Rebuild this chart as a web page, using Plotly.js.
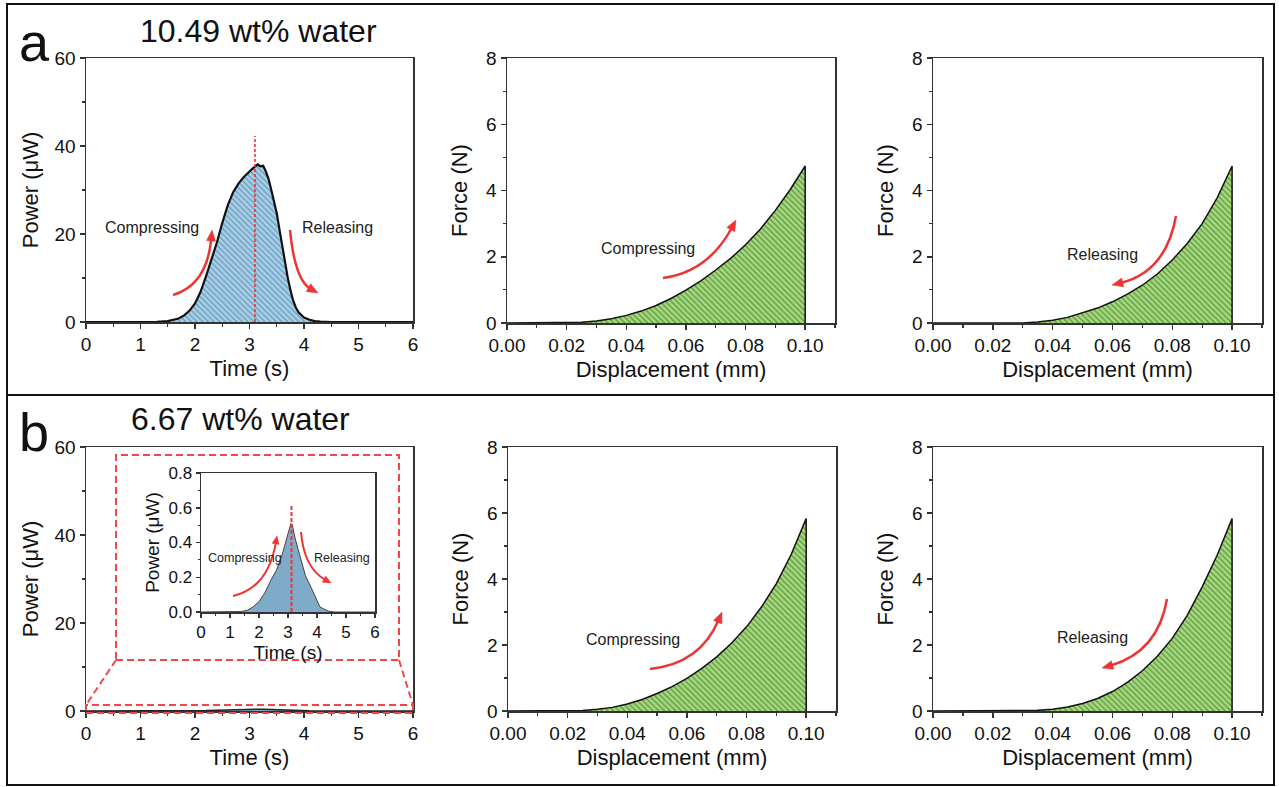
<!DOCTYPE html>
<html>
<head>
<meta charset="utf-8">
<script src="https://cdn.plot.ly/plotly-3.0.1.min.js"></script>
<style>html,body{margin:0;padding:0;background:#fff;}#chart{width:1279px;height:787px;}</style>
</head>
<body>
<div id="chart"></div>
<script>
// ---------- DATA ----------
// Panel a: power vs time (10.49 wt% water)
const timeA  = [0, 0.5, 1.0, 1.3, 1.5, 1.7, 1.8, 1.9, 2.0, 2.1, 2.2, 2.3, 2.4, 2.5, 2.6, 2.7, 2.8, 2.9, 2.95, 3.0, 3.05, 3.1, 3.15, 3.2, 3.25, 3.3, 3.35, 3.4, 3.45, 3.5, 3.55, 3.6, 3.65, 3.7, 3.75, 3.8, 3.85, 3.9, 4.0, 4.1, 4.2, 4.3, 4.5, 5.0, 6.0];
const powerA = [0, 0, 0, 0.05, 0.2, 0.8, 1.5, 2.6, 4.2, 6.8, 10.3, 14.0, 18.0, 22.5, 26.5, 29.5, 31.5, 33.0, 33.6, 34.4, 34.8, 35.3, 35.8, 35.4, 35.5, 34.2, 32.5, 30.0, 27.5, 24.7, 21.0, 17.2, 13.5, 10.2, 7.3, 4.9, 3.3, 2.2, 1.0, 0.5, 0.2, 0.07, 0, 0, 0];
// Panel b: power vs time (6.67 wt% water)
const timeB  = [0, 1.0, 1.4, 1.6, 1.8, 2.0, 2.2, 2.4, 2.6, 2.8, 3.0, 3.1, 3.15, 3.25, 3.4, 3.6, 3.8, 3.9, 4.0, 4.1, 4.2, 4.4, 4.6, 5.0, 6.0];
const powerB = [0, 0, 0.003, 0.01, 0.03, 0.06, 0.11, 0.18, 0.24, 0.33, 0.45, 0.51, 0.50, 0.42, 0.33, 0.21, 0.14, 0.10, 0.06, 0.03, 0.02, 0.005, 0, 0, 0];
const peakTimeA = 3.1, peakLineTopA = 42.3;
const peakTimeB = 3.12, peakLineTopB = 0.62;

// Force vs displacement
const dispCompA  = [0, 0.01, 0.02, 0.025, 0.03, 0.035, 0.04, 0.045, 0.05, 0.055, 0.06, 0.065, 0.07, 0.075, 0.08, 0.085, 0.09, 0.095, 0.1, 0.1];
const forceCompA = [0, 0, 0, 0.02, 0.06, 0.13, 0.23, 0.36, 0.53, 0.74, 0.99, 1.27, 1.60, 1.95, 2.36, 2.84, 3.40, 4.03, 4.74, 0];
const dispRelA   = [0, 0.01, 0.02, 0.03, 0.035, 0.04, 0.045, 0.05, 0.055, 0.06, 0.065, 0.07, 0.075, 0.08, 0.085, 0.09, 0.095, 0.1, 0.1];
const forceRelA  = [0, 0, 0, 0, 0.03, 0.08, 0.17, 0.30, 0.45, 0.64, 0.87, 1.14, 1.48, 1.90, 2.40, 3.00, 3.78, 4.74, 0];
const dispCompB  = [0, 0.01, 0.02, 0.025, 0.03, 0.035, 0.04, 0.045, 0.05, 0.055, 0.06, 0.065, 0.07, 0.075, 0.08, 0.085, 0.09, 0.095, 0.1, 0.1];
const forceCompB = [0, 0, 0, 0.015, 0.05, 0.11, 0.21, 0.35, 0.53, 0.74, 0.99, 1.29, 1.64, 2.06, 2.55, 3.15, 3.86, 4.75, 5.83, 0];
const dispRelB   = [0, 0.01, 0.02, 0.03, 0.035, 0.04, 0.045, 0.05, 0.055, 0.06, 0.065, 0.07, 0.075, 0.08, 0.085, 0.09, 0.095, 0.1, 0.1];
const forceRelB  = [0, 0, 0, 0, 0.02, 0.05, 0.12, 0.23, 0.38, 0.59, 0.87, 1.22, 1.66, 2.20, 2.90, 3.76, 4.72, 5.83, 0];

// Text
const panelLabels = ["a", "b"];
const panelTitles = ["10.49 wt% water", "6.67 wt% water"];
const timeTitle = "Time (s)", powerTitle = "Power (μW)";
const dispTitle = "Displacement (mm)", forceTitle = "Force (N)";
const compText = "Compressing", relText = "Releasing";

// ---------- LAYOUT HELPERS ----------
const W = 1279, H = 787;
const px = x => x / W;
const py = y => 1 - y / H;
const FONT = 'Arial, "Liberation Sans", sans-serif';
const RED = '#ee3333';

const blueFill = {shape: '\\', fgcolor: '#6b9dc0', bgcolor: '#a9d0e6', size: 4, solidity: 0.35, fillmode: 'replace'};
const greenFill = {shape: '\\', fgcolor: '#5f9b3b', bgcolor: '#a8d884', size: 4, solidity: 0.35, fillmode: 'replace'};

function axisBase(extra) {
  return Object.assign({
    showline: true, mirror: true, linecolor: '#333', linewidth: 1.5,
    ticks: 'outside', ticklen: 5, tickwidth: 1.5, tickcolor: '#333',
    showgrid: false, zeroline: false, fixedrange: true,
    tickfont: {size: 19, color: '#111', family: FONT},
    minor: {ticks: 'outside', ticklen: 3, tickwidth: 1.2, tickcolor: '#333', showgrid: false},
    automargin: false
  }, extra);
}
function xdom(l, r) { return [px(l), px(r)]; }
function ydom(t, b) { return [py(b), py(t)]; }

function timeX(l, r, b, anchor) {
  return axisBase({domain: xdom(l, r), anchor: anchor, range: [0, 6], dtick: 1, tick0: 0,
    minor: {ticks: 'outside', ticklen: 3, tickwidth: 1.2, tickcolor: '#333', dtick: 0.5, showgrid: false},
    title: {text: timeTitle, font: {size: 22, color: '#111', family: FONT}, standoff: 6}});
}
function powerY(t, b, anchor) {
  return axisBase({domain: ydom(t, b), anchor: anchor, range: [0, 60], dtick: 20, tick0: 0,
    minor: {ticks: 'outside', ticklen: 3, tickwidth: 1.2, tickcolor: '#333', dtick: 10, showgrid: false},
    title: {text: powerTitle, font: {size: 22, color: '#111', family: FONT}, standoff: 10}});
}
function dispX(l, r, anchor) {
  return axisBase({domain: xdom(l, r), anchor: anchor, range: [0, 0.11], dtick: 0.02, tick0: 0, tickformat: '.2f',
    minor: {ticks: 'outside', ticklen: 3, tickwidth: 1.2, tickcolor: '#333', dtick: 0.01, showgrid: false},
    title: {text: dispTitle, font: {size: 22, color: '#111', family: FONT}, standoff: 6}});
}
function forceY(t, b, anchor) {
  return axisBase({domain: ydom(t, b), anchor: anchor, range: [0, 8], dtick: 2, tick0: 0,
    minor: {ticks: 'outside', ticklen: 3, tickwidth: 1.2, tickcolor: '#333', dtick: 1, showgrid: false},
    title: {text: forceTitle, font: {size: 22, color: '#111', family: FONT}, standoff: 12}});
}

// ---------- TRACES ----------
const traces = [
  {x: timeA, y: powerA, xaxis: 'x', yaxis: 'y', type: 'scatter', mode: 'lines',
   line: {color: '#111', width: 2.2}, fill: 'tozeroy', fillcolor: '#a9d0e6', fillpattern: blueFill, hoverinfo: 'skip'},
  {x: dispCompA, y: forceCompA, xaxis: 'x2', yaxis: 'y2', type: 'scatter', mode: 'lines',
   line: {color: '#111', width: 1.5}, fill: 'tozeroy', fillcolor: '#a8d884', fillpattern: greenFill, hoverinfo: 'skip'},
  {x: dispRelA, y: forceRelA, xaxis: 'x3', yaxis: 'y3', type: 'scatter', mode: 'lines',
   line: {color: '#111', width: 1.5}, fill: 'tozeroy', fillcolor: '#a8d884', fillpattern: greenFill, hoverinfo: 'skip'},
  {x: timeB, y: powerB, xaxis: 'x4', yaxis: 'y4', type: 'scatter', mode: 'lines',
   line: {color: '#222', width: 1.5}, fill: 'tozeroy', fillcolor: '#7faac8', hoverinfo: 'skip'},
  {x: dispCompB, y: forceCompB, xaxis: 'x5', yaxis: 'y5', type: 'scatter', mode: 'lines',
   line: {color: '#111', width: 1.5}, fill: 'tozeroy', fillcolor: '#a8d884', fillpattern: greenFill, hoverinfo: 'skip'},
  {x: dispRelB, y: forceRelB, xaxis: 'x6', yaxis: 'y6', type: 'scatter', mode: 'lines',
   line: {color: '#111', width: 1.5}, fill: 'tozeroy', fillcolor: '#a8d884', fillpattern: greenFill, hoverinfo: 'skip'},
  {x: timeB, y: powerB, xaxis: 'x7', yaxis: 'y7', type: 'scatter', mode: 'lines',
   line: {color: '#444', width: 1}, fill: 'tozeroy', fillcolor: '#7faac8', hoverinfo: 'skip'}
];

// ---------- SHAPES ----------
const shapes = [];
// panel frames
shapes.push({type: 'rect', xref: 'paper', yref: 'paper', x0: px(7), x1: px(1274), y0: py(395), y1: py(4), line: {color: '#111', width: 2}});
shapes.push({type: 'rect', xref: 'paper', yref: 'paper', x0: px(7), x1: px(1274), y0: py(785), y1: py(395), line: {color: '#111', width: 2}});
// peak lines
shapes.push({type: 'line', xref: 'x', yref: 'y', x0: peakTimeA, x1: peakTimeA, y0: 0, y1: peakLineTopA, line: {color: RED, width: 1.6, dash: '3px,2px'}});
shapes.push({type: 'line', xref: 'x7', yref: 'y7', x0: peakTimeB, x1: peakTimeB, y0: 0, y1: peakLineTopB, line: {color: RED, width: 2, dash: '4px,2px'}});
// zoom box in panel b
const dashRed = {color: '#f04848', width: 2, dash: '7px,4px'};
shapes.push({type: 'rect', xref: 'paper', yref: 'paper', x0: px(116), x1: px(399), y0: py(660), y1: py(455), line: dashRed});
shapes.push({type: 'rect', xref: 'paper', yref: 'paper', x0: px(86), x1: px(413), y0: py(713), y1: py(705), line: dashRed});
shapes.push({type: 'line', xref: 'paper', yref: 'paper', x0: px(116), y0: py(660), x1: px(86), y1: py(705), line: dashRed});
shapes.push({type: 'line', xref: 'paper', yref: 'paper', x0: px(399), y0: py(660), x1: px(413), y1: py(705), line: dashRed});

function curvedArrow(x0, y0, cx, cy, x1, y1, L, hw, lw) {
  let dx = x1 - cx, dy = y1 - cy;
  const n = Math.hypot(dx, dy); dx /= n; dy /= n;
  const bx = x1 - dx * L * 0.8, by = y1 - dy * L * 0.8;
  const bx2 = x1 - dx * L, by2 = y1 - dy * L;
  const c1x = bx2 - dy * hw, c1y = by2 + dx * hw;
  const c2x = bx2 + dy * hw, c2y = by2 - dx * hw;
  shapes.push({type: 'path', xref: 'paper', yref: 'paper',
    path: `M ${px(x0)},${py(y0)} Q ${px(cx)},${py(cy)} ${px(bx)},${py(by)}`,
    line: {color: RED, width: lw}});
  shapes.push({type: 'path', xref: 'paper', yref: 'paper',
    path: `M ${px(x1)},${py(y1)} L ${px(c1x)},${py(c1y)} L ${px(c2x)},${py(c2y)} Z`,
    line: {color: RED, width: 0.5}, fillcolor: RED});
}
curvedArrow(173, 295, 207, 285, 212, 230, 11, 4.5, 2.5);
curvedArrow(290, 230, 295, 280, 318, 293, 11, 4.5, 2.5);
curvedArrow(663, 278, 708, 272, 736, 220, 11, 4.5, 2.5);
curvedArrow(1176, 216, 1166, 272, 1112, 285, 11, 4.5, 2.5);
curvedArrow(650, 669, 700, 664, 722, 612, 11, 4.5, 2.5);
curvedArrow(1167, 599, 1158, 652, 1102, 668, 11, 4.5, 2.5);
curvedArrow(233, 596, 268, 588, 277, 536, 8, 3.5, 2);
curvedArrow(301, 532, 304, 568, 331, 583, 8, 3.5, 2);

// ---------- ANNOTATIONS ----------
function txt(text, x, y, size, extra) {
  return Object.assign({text: text, xref: 'paper', yref: 'paper', x: px(x), y: py(y), xanchor: 'center', yanchor: 'middle',
    showarrow: false, font: {size: size, color: '#111', family: FONT}}, extra || {});
}
const annotations = [
  txt(panelLabels[0], 34, 42, 54),
  txt(panelLabels[1], 34, 432, 54),
  txt(panelTitles[0], 258, 31, 32),
  txt(panelTitles[1], 240, 419, 32),
  txt(compText, 152, 227, 16, {font: {size: 16, color: '#222', family: FONT}}),
  txt(relText, 337, 227, 16, {font: {size: 16, color: '#222', family: FONT}}),
  txt(compText, 648, 248, 16, {font: {size: 16, color: '#222', family: FONT}}),
  txt(relText, 1102, 255, 16, {font: {size: 16, color: '#222', family: FONT}}),
  txt(compText, 633, 639, 16, {font: {size: 16, color: '#222', family: FONT}}),
  txt(relText, 1092, 637, 16, {font: {size: 16, color: '#222', family: FONT}}),
  txt(compText, 245, 558, 12.5, {font: {size: 12.5, color: '#222', family: FONT}}),
  txt(relText, 342, 558, 12.5, {font: {size: 12.5, color: '#222', family: FONT}})
];

// ---------- LAYOUT ----------
const layout = {
  width: W, height: H,
  margin: {l: 0, r: 0, t: 0, b: 0, pad: 0},
  paper_bgcolor: '#fff', plot_bgcolor: 'rgba(0,0,0,0)',
  showlegend: false,
  font: {family: FONT, color: '#111'},
  xaxis:  timeX(86, 413, 322, 'y'),
  yaxis:  powerY(58, 322, 'x'),
  xaxis2: dispX(507, 835, 'y2'),
  yaxis2: forceY(58, 323, 'x2'),
  xaxis3: dispX(933, 1262, 'y3'),
  yaxis3: forceY(58, 323, 'x3'),
  xaxis4: timeX(86, 413, 711, 'y4'),
  yaxis4: powerY(447, 711, 'x4'),
  xaxis5: dispX(508, 836, 'y5'),
  yaxis5: forceY(447, 711, 'x5'),
  xaxis6: dispX(933, 1262, 'y6'),
  yaxis6: forceY(447, 711, 'x6'),
  xaxis7: axisBase({domain: xdom(201, 375), anchor: 'y7', range: [0, 6], dtick: 1, tick0: 0,
    tickfont: {size: 17, color: '#111', family: FONT}, ticklen: 4,
    minor: {ticks: 'outside', ticklen: 2, tickwidth: 1, tickcolor: '#333', dtick: 0.5, showgrid: false},
    title: {text: timeTitle, font: {size: 19, color: '#111', family: FONT}, standoff: 1}}),
  yaxis7: axisBase({domain: ydom(473, 612), anchor: 'x7', range: [0, 0.8], dtick: 0.2, tick0: 0, tickformat: '.1f',
    tickfont: {size: 17, color: '#111', family: FONT}, ticklen: 4,
    minor: {ticks: 'outside', ticklen: 2, tickwidth: 1, tickcolor: '#333', dtick: 0.1, showgrid: false},
    title: {text: powerTitle, font: {size: 19, color: '#111', family: FONT}, standoff: 4}}),
  shapes: shapes,
  annotations: annotations
};

Plotly.newPlot('chart', traces, layout, {displayModeBar: false, staticPlot: true});
</script>
</body>
</html>
